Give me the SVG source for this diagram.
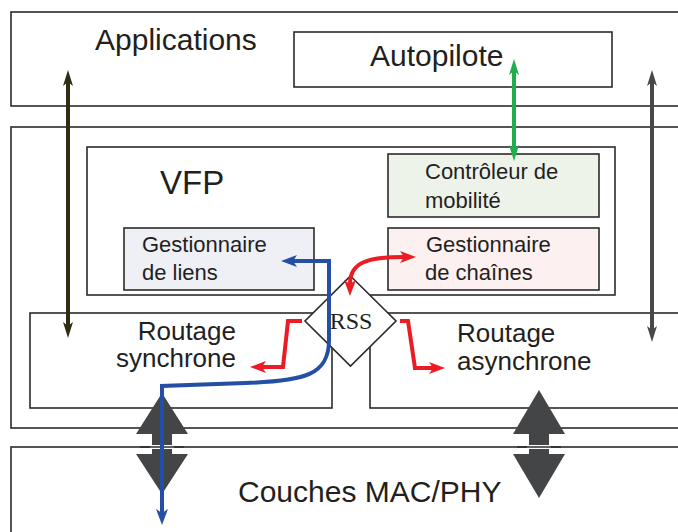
<svg xmlns="http://www.w3.org/2000/svg" width="678" height="532" viewBox="0 0 678 532">
<style>
.box{fill:#fff;stroke:#2b2b2b;stroke-width:1.6}
.t{font-family:"Liberation Sans",Arial,sans-serif;fill:#231f20}
.big{font-size:30px}
.mid{font-size:26px}
.sm{font-size:22px}
.ln{fill:none;stroke-linejoin:miter}
</style>
<defs>
<marker id="mOl" viewBox="0 0 16 10" refX="4" refY="5" markerWidth="16" markerHeight="10" markerUnits="userSpaceOnUse" orient="auto-start-reverse"><path d="M0,0 L16,5 L0,10 L4,5 z" fill="#2e2c12"/></marker>
<marker id="mGr" viewBox="0 0 16 10" refX="4" refY="5" markerWidth="16" markerHeight="10" markerUnits="userSpaceOnUse" orient="auto-start-reverse"><path d="M0,0 L16,5 L0,10 L4,5 z" fill="#1fae4b"/></marker>
<marker id="mGy" viewBox="0 0 16 10" refX="4" refY="5" markerWidth="16" markerHeight="10" markerUnits="userSpaceOnUse" orient="auto-start-reverse"><path d="M0,0 L16,5 L0,10 L4,5 z" fill="#48484a"/></marker>
<marker id="mRd" viewBox="0 0 16 12" refX="4" refY="6" markerWidth="16" markerHeight="12" markerUnits="userSpaceOnUse" orient="auto-start-reverse"><path d="M0,0 L16,6 L0,12 L4,6 z" fill="#ec1c24"/></marker>
<marker id="mBl" viewBox="0 0 16 12" refX="4" refY="6" markerWidth="16" markerHeight="12" markerUnits="userSpaceOnUse" orient="auto-start-reverse"><path d="M0,0 L16,6 L0,12 L4,6 z" fill="#2350a5"/></marker>
</defs>

<g id="applications">
<rect class="box" x="11" y="12" width="700" height="94"/>
<text class="t big" x="95" y="50">Applications</text>
</g>
<g id="autopilote">
<rect class="box" x="294" y="32" width="318" height="55"/>
<text class="t big" x="370" y="66">Autopilote</text>
</g>
<g id="middle">
<rect class="box" x="11" y="127" width="700" height="301"/>
</g>
<g id="vfp">
<rect class="box" x="87" y="147" width="528" height="148"/>
<text class="t" style="font-size:33px" x="160" y="194">VFP</text>
</g>
<g id="controleur">
<rect class="box" x="388" y="154" width="211" height="63" style="fill:#eef3ea"/>
<text class="t sm" x="425" y="179">Contrôleur de</text>
<text class="t sm" x="425" y="208">mobilité</text>
</g>
<g id="chaines">
<rect class="box" x="388" y="228" width="211" height="62" style="fill:#fdf0f0"/>
<text class="t sm" x="426" y="252">Gestionnaire</text>
<text class="t sm" x="425" y="280">de chaînes</text>
</g>
<g id="liens">
<rect class="box" x="124" y="228" width="190" height="62" style="fill:#eff0f6"/>
<text class="t sm" x="142" y="252">Gestionnaire</text>
<text class="t sm" x="142" y="280">de liens</text>
</g>
<g id="sync">
<rect class="box" x="30" y="313" width="302" height="95"/>
<text class="t mid" x="236" y="340" text-anchor="end">Routage</text>
<text class="t mid" x="236" y="367" text-anchor="end">synchrone</text>
</g>
<g id="async">
<rect class="box" x="370" y="313" width="340" height="95"/>
<text class="t mid" x="457" y="342">Routage</text>
<text class="t mid" x="457" y="370">asynchrone</text>
</g>
<g id="rss">
<polygon class="box" points="350.5,276 396,321 350.5,366 305,321"/>
<text x="351" y="329" text-anchor="middle" style="font-family:'Liberation Serif','Times New Roman',serif;font-size:24px;fill:#231f20">RSS</text>
</g>
<g id="mac">
<rect class="box" x="11" y="447" width="700" height="100"/>
<text class="t" style="font-size:30px" x="238" y="502">Couches MAC/PHY</text>
</g>

<g id="connectors">
<polygon points="162,393 188,434 172,434 172,454 188,454 162,494 136,454 152,454 152,434 136,434" fill="#444547"/>
<polygon points="539,390 565,434 549,434 549,454 565,454 539,498 513,454 529,454 529,434 513,434" fill="#444547"/>
<line x1="150" y1="447" x2="174" y2="447" stroke="#fff" stroke-width="4"/>
<line x1="527" y1="447" x2="551" y2="447" stroke="#fff" stroke-width="4"/>
<line x1="140" y1="447" x2="184" y2="447" stroke="#2b2b2b" stroke-width="1.6"/>
<line x1="517" y1="447" x2="561" y2="447" stroke="#2b2b2b" stroke-width="1.6"/>

<line class="ln" x1="68" y1="82" x2="68" y2="326" stroke="#2e2c12" stroke-width="4" marker-start="url(#mOl)" marker-end="url(#mOl)"/>
<line class="ln" x1="514" y1="71" x2="514" y2="149" stroke="#1fae4b" stroke-width="4" marker-start="url(#mGr)" marker-end="url(#mGr)"/>
<line class="ln" x1="652" y1="82" x2="652" y2="330" stroke="#48484a" stroke-width="4" marker-start="url(#mGy)" marker-end="url(#mGy)"/>

<path class="ln" d="M350,284 C350,262 368,257 404,257" stroke="#ec1c24" stroke-width="4" marker-start="url(#mRd)" marker-end="url(#mRd)"/>
<path class="ln" d="M302,321 L288,321 L283,367 L262,367" stroke="#ec1c24" stroke-width="4" marker-end="url(#mRd)"/>
<path class="ln" d="M400,321 L408,321 L415,368 L433,368" stroke="#ec1c24" stroke-width="4" marker-end="url(#mRd)"/>

<path class="ln" d="M293,261 L329,261 L329,340 C329,375 305,381 245,383 L162,386 L162,513" stroke="#2350a5" stroke-width="4" marker-start="url(#mBl)" marker-end="url(#mBl)"/>
</g>
</svg>
